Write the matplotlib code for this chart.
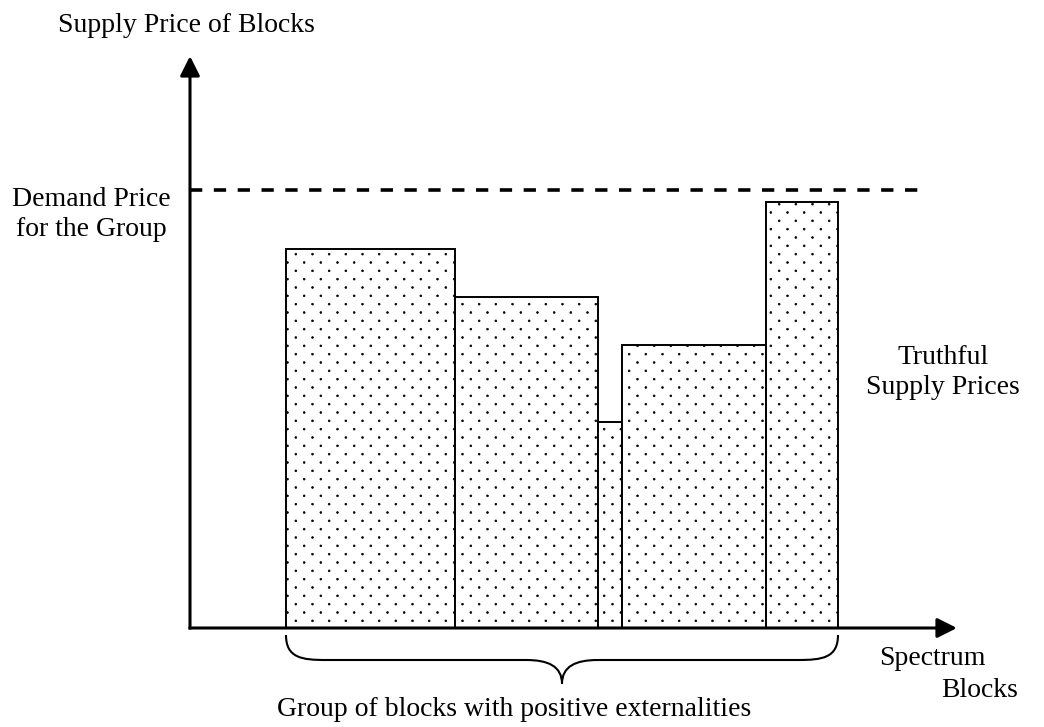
import numpy as np
import matplotlib
matplotlib.use("Agg")
import matplotlib.pyplot as plt
import matplotlib.hatch as mhatch
from matplotlib.path import Path
from matplotlib.patches import PathPatch

# ---------------- data (units: pixels-like value scale) ----------------
block_edges = [96, 265, 408, 432, 576, 648]      # boundaries of spectrum blocks
supply_prices = [379, 331, 206, 283, 426]         # truthful supply price of each block
demand_price = 438                                # demand price for the group
axis_x_max = 767
axis_y_max = 572

y_label = "Supply Price of Blocks"
demand_label = ["Demand Price", "for the Group"]
supply_label = ["Truthful", "Supply Prices"]
x_label = ["Spectrum", "Blocks"]
group_label = "Group of blocks with positive externalities"


# ---------------- custom staggered dot hatch ----------------
class StaggeredDots(mhatch.HatchPatternBase):
    filled = True

    def __init__(self, hatch, density):
        self.nrows = 12 * hatch.count('.')
        self.ncols = 6 * hatch.count('.')
        circ = Path.unit_circle()
        self.shape_vertices = circ.vertices
        self.shape_codes = circ.codes
        self.num_shapes = self.nrows * self.ncols
        self.num_vertices = self.num_shapes * len(self.shape_vertices)

    def set_vertices_and_codes(self, vertices, codes):
        r = 0.009
        vparts, cparts = [], []
        for row in range(self.nrows):
            yy = (row + 0.5) / self.nrows
            off = 0.25 + 0.5 * (row % 2)
            for col in range(self.ncols):
                xx = (col + off) / self.ncols
                vparts.append(self.shape_vertices * r + [xx, yy])
                cparts.append(self.shape_codes)
        np.concatenate(vparts, out=vertices)
        np.concatenate(cparts, out=codes)


mhatch._hatch_types = [t for t in mhatch._hatch_types
                       if t is not mhatch.SmallFilledCircles] + [StaggeredDots]

plt.rcParams['font.family'] = ['Liberation Serif', 'DejaVu Serif']
plt.rcParams['hatch.color'] = 'black'
plt.rcParams['hatch.linewidth'] = 0.5

W, H = 1044, 727
fig = plt.figure(figsize=(W / 100, H / 100), dpi=100)
ax = fig.add_axes([0, 0, 1, 1])
ax.set_xlim(-190, W - 190)
ax.set_ylim(-(H - 628), 628)
ax.axis('off')

# bars
lefts = np.array(block_edges[:-1])
widths = np.diff(block_edges)
ax.bar(lefts, supply_prices, width=widths, align='edge', color='white',
       edgecolor='black', linewidth=1.4, hatch='.', zorder=2)

# demand price dashed line
ax.plot([0, 738], [demand_price, demand_price], color='black', lw=2.6,
        dashes=(3.4, 3.2), solid_capstyle='butt', dash_capstyle='butt', zorder=3)

# axes with arrows
arrow_kw = dict(arrowstyle='-|>,head_length=0.6,head_width=0.3', lw=2.2,
                color='black', shrinkA=0, shrinkB=0, mutation_scale=20,
                capstyle='butt')
ax.annotate('', xy=(axis_x_max, 0), xytext=(-1.5, 0), arrowprops=arrow_kw, zorder=4)
ax.annotate('', xy=(0, axis_y_max), xytext=(0, -1.5), arrowprops=arrow_kw, zorder=4)

# brace under the group
xl, xr = block_edges[0], block_edges[-1]
xc = (xl + xr) / 2
yt, ym, ytip = -7, -32, -56
verts = [(xl, yt), (xl, ym + 2), (xl + 16, ym), (xl + 40, ym),
         (xc - 36, ym),
         (xc - 14, ym), (xc, ym - 6), (xc, ytip),
         (xc, ym - 6), (xc + 14, ym), (xc + 36, ym),
         (xr - 40, ym),
         (xr - 16, ym), (xr, ym + 2), (xr, yt)]
codes = [Path.MOVETO, Path.CURVE4, Path.CURVE4, Path.CURVE4,
         Path.LINETO,
         Path.CURVE4, Path.CURVE4, Path.CURVE4,
         Path.CURVE4, Path.CURVE4, Path.CURVE4,
         Path.LINETO,
         Path.CURVE4, Path.CURVE4, Path.CURVE4]
ax.add_patch(PathPatch(Path(verts, codes), fill=False, lw=1.5, edgecolor='black'))

# texts
fs = 20
ax.text(-4, 596, y_label, fontsize=fs, ha='center', va='baseline')
ax.text(-99, 422, demand_label[0], fontsize=fs, ha='center', va='baseline')
ax.text(-99, 392, demand_label[1], fontsize=fs, ha='center', va='baseline')
ax.text(753, 264, supply_label[0], fontsize=fs, ha='center', va='baseline')
ax.text(753, 234, supply_label[1], fontsize=fs, ha='center', va='baseline')
ax.text(742, -37, x_label[0], fontsize=fs, ha='center', va='baseline')
ax.text(790, -69, x_label[1], fontsize=fs, ha='center', va='baseline')
ax.text(324, -88, group_label, fontsize=fs, ha='center', va='baseline')

fig.savefig('out.png', dpi=100, facecolor='white')
